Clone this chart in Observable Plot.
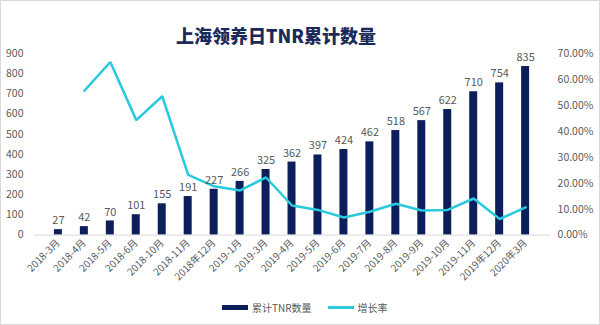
<!DOCTYPE html>
<html>
<head>
<meta charset="utf-8">
<script src="https://cdn.jsdelivr.net/npm/d3@7"></script>
<script src="https://cdn.jsdelivr.net/npm/@observablehq/plot@0.6"></script>
<style>
  html, body { margin: 0; padding: 0; background: #fff; }
  #wrap { position: relative; width: 598px; height: 323px; border: 1px solid #d9d9d9; overflow: hidden; font-family: "Noto Sans CJK SC", sans-serif; }
  #chart { position: absolute; left: -1px; top: -1px; }
  #title { position: absolute; left: 0; width: 550px; top: 21px; text-align: center; font-size: 18px; font-weight: 900; color: #1c2a5a; }
  #legend { position: absolute; top: 299px; left: 221px; font-size: 10px; color: #595959; display: flex; align-items: center; }
  .sw { display: inline-block; margin-right: 4px; }
</style>
</head>
<body>
<div id="wrap">
  <div id="chart"></div>
  <div id="title">上海领养日TNR累计数量</div>
  <div id="legend">
    <span class="sw" style="width:26px;height:5px;background:#0c1f5b"></span><span>累计TNR数量</span>
    <span class="sw" style="width:26px;height:3px;background:#29c9de;margin-left:16px"></span><span>增长率</span>
  </div>
</div>
<script>
const months = ["2018-3月","2018-4月","2018-5月","2018-6月","2018-10月","2018-11月","2018年12月","2019-1月","2019-3月","2019-4月","2019-5月","2019-6月","2019-7月","2019-8月","2019-9月","2019-10月","2019-11月","2019年12月","2020年3月"];
const counts = [27,42,70,101,155,191,227,266,325,362,397,424,462,518,567,622,710,754,835];
const growth = [null,55.6,66.7,44.3,53.5,23.2,18.8,17.2,22.2,11.4,9.7,6.8,9.0,12.1,9.5,9.7,14.1,6.2,10.7];
const countTicks = [0,100,200,300,400,500,600,700,800,900];
const pctTicks = [0,10,20,30,40,50,60,70];

const k = 900 / 70; // percent -> left-axis units
const bars = months.map((m, i) => ({month: m, count: counts[i]}));
const line = months.map((m, i) => ({month: m, rate: growth[i]})).filter(d => d.rate != null).map(d => ({...d, y: d.rate * k}));

const navy = "#0c1f5b", cyan = "#29c9de";
const plot = Plot.plot({
  width: 600, height: 325,
  marginTop: 53, marginBottom: 90, marginLeft: 34, marginRight: 49,
  style: {fontFamily: "'Noto Sans CJK SC', sans-serif", fontSize: "11px", color: "#595959", background: "transparent", overflow: "visible"},
  x: {domain: months, padding: 0.68, label: null},
  y: {domain: [0, 900], label: null},
  marks: [
    Plot.barY(bars, {x: "month", y: "count", fill: navy}),
    Plot.ruleY([0], {stroke: "#d9d9d9", strokeWidth: 1}),
    Plot.line(line, {x: "month", y: "y", stroke: cyan, strokeWidth: 2.5, strokeLinejoin: "miter"}),
    Plot.text(bars, {x: "month", y: "count", text: d => String(d.count), dy: -9, fill: "#595959", fontSize: 11}),
    Plot.axisY({ticks: countTicks, tickSize: 0, tickPadding: 11, label: null, fontSize: 10.5}),
    Plot.axisY({anchor: "right", ticks: pctTicks.map(v => v * k), tickFormat: d => (d / k).toFixed(2) + "%", tickSize: 0, tickPadding: 7, label: null, fontSize: 10.5}),
    Plot.axisX({tickRotate: -45, tickSize: 0, tickPadding: 6, label: null, fontSize: 10})
  ]
});
document.getElementById("chart").appendChild(plot);
</script>
</body>
</html>
